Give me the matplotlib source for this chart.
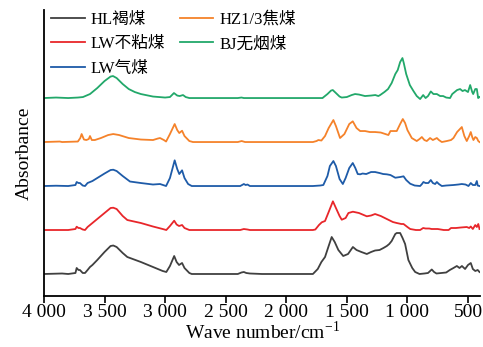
import matplotlib
matplotlib.use("Agg")
import matplotlib.pyplot as plt

plt.rcParams['font.family'] = ['Liberation Serif', 'Noto Sans CJK SC', 'DejaVu Sans']

# wavenumber (cm-1) / absorbance (arbitrary units, above own baseline)
HL_WN = [4000, 3850, 3800, 3740, 3730, 3715, 3703, 3680, 3661, 3640, 3620, 3600, 3560, 3500, 3450, 3428, 3400,
         3350, 3312, 3200, 3100, 3020, 2990, 2960, 2925, 2905, 2885, 2860, 2840, 2800, 2780, 2400, 2370, 2350,
         2330, 2300, 2200, 1780, 1740, 1710, 1680, 1650, 1625, 1600, 1570, 1530, 1490, 1450, 1420, 1380, 1335,
         1300, 1267, 1230, 1198, 1170, 1150, 1130, 1100, 1088, 1060, 1040, 1019, 992, 960, 936, 900, 860, 830,
         799, 780, 760, 720, 680, 650, 620, 592, 570, 550, 524, 500, 477, 460, 440, 420, 405]
HL_ABS = [0, 0.5, 0, 1, 6, 4, 4, 1, 1, 4, 7, 9, 14, 22, 28, 28.5, 27,
          21, 17, 12, 7, 3, 2, 8, 18, 12, 9, 11, 6, 1, 0, 0, 1.5, 2,
          1, 0.5, 0, 0, 5, 12, 17, 28, 37, 32, 24, 18, 20, 27, 24, 22, 20,
          22, 23.5, 24, 26, 28, 30, 33, 40, 41, 41, 36, 30, 14, 6, 2, 0, 0.5, 1,
          4.5, 2, 0.5, 1, 1.5, 4, 6, 8, 6, 8, 5, 9, 11, 5, 3, 4, 2]

LWB_WN = [4000, 3800, 3740, 3730, 3715, 3703, 3680, 3661, 3640, 3620, 3600, 3560, 3500, 3450, 3428, 3400, 3350,
          3312, 3200, 3100, 3020, 2990, 2960, 2925, 2905, 2885, 2860, 2840, 2800, 2380, 2350, 2320, 2300, 1780,
          1760, 1730, 1707, 1680, 1650, 1615, 1590, 1560, 1542, 1510, 1487, 1450, 1400, 1335, 1300, 1267, 1220,
          1170, 1120, 1088, 1050, 1032, 1000, 977, 930, 895, 870, 850, 820, 800, 750, 700, 660, 640, 600, 560,
          510, 490, 477, 460, 440, 427, 415, 405]
LWB_ABS = [0, 0, 1, 3.3, 2, 2, 0.5, 0, 3, 5, 7, 11, 17, 22, 22.3, 21, 14,
           10, 7, 3.5, 1, 0, 4, 9.3, 5.5, 4, 5, 2, 0, 0, 1, 0.5, 0, 0,
           0.5, 5, 7.7, 9, 18, 28.7, 22, 14, 10.3, 12, 17, 18.3, 17, 13.7, 14.5, 16, 14,
           11, 8, 7, 6, 6, 3, 1, 0, 0, 2, 1.5, 1.5, 1, 1, 0, 0, 2, 2, 2.5,
           3, 2, 3.5, 1, 5, 3, 6, 1]

LWQ_WN = [4000, 3900, 3800, 3740, 3730, 3715, 3703, 3680, 3661, 3640, 3620, 3600, 3560, 3500, 3450, 3428, 3400,
          3350, 3290, 3200, 3100, 3042, 2992, 2960, 2921, 2900, 2883, 2860, 2840, 2810, 2780, 2380, 2350, 2335,
          2320, 2300, 1780, 1720, 1694, 1660, 1640, 1611, 1590, 1560, 1533, 1510, 1480, 1451, 1430, 1410, 1390,
          1370, 1340, 1300, 1267, 1230, 1200, 1170, 1140, 1100, 1060, 1032, 1010, 977, 940, 895, 880, 868, 850,
          827, 807, 790, 771, 757, 740, 716, 680, 620, 580, 551, 520, 496, 477, 460, 440, 427, 420, 405]
LWQ_ABS = [0, 0.3, 0, 1, 4, 3, 3, 0.5, 0, 3, 4, 5, 8, 12.5, 16, 16.3, 15,
           10, 4.5, 3, 1.5, 2, 0, 8, 25.7, 17, 12, 15.7, 8, 2, 0, 0, 2, 1,
           1.5, 0, 0, 0.5, 1, 10, 20, 25, 20, 7, 2, 8, 18, 23, 18, 12, 11.7,
           12.5, 12, 14, 14, 13, 12, 11.7, 11, 8.3, 9, 9.7, 6, 2.3, 0.5, 0, 2, 4, 3,
           3, 6, 3, 2, 4, 2, 0, 0.5, 1, 1.5, 2, 1.5, 0, 3, 1, 1, 5, 0.5, 0]

HZ_WN = [4000, 3870, 3850, 3720, 3700, 3689, 3670, 3650, 3630, 3620, 3605, 3580, 3530, 3470, 3428, 3380, 3300,
         3200, 3100, 3060, 3042, 3010, 2992, 2960, 2921, 2900, 2883, 2860, 2840, 2800, 2770, 2400, 2368, 2340,
         1780, 1750, 1735, 1710, 1680, 1650, 1611, 1590, 1556, 1520, 1480, 1451, 1420, 1390, 1350, 1310, 1267,
         1220, 1157, 1140, 1120, 1088, 1060, 1038, 1019, 1000, 964, 923, 900, 881, 860, 840, 813, 790, 757,
         740, 716, 675, 640, 620, 590, 551, 530, 510, 490, 477, 465, 455, 440, 427, 415, 405]
HZ_ABS = [0, 0.5, 0, 0.5, 4, 8, 2.5, 2, 3, 6, 2, 2, 4, 7, 8, 7, 4,
          2.5, 2, 3.5, 4, 2, 0.5, 8, 18, 12, 9, 11.3, 6, 1, 0, 0, 1, 0,
          0, 1, 2, 1.5, 6, 14, 22, 16, 4, 8, 18, 20.7, 14, 11, 11, 10, 10,
          9.5, 7, 11, 11, 11, 18, 23, 19, 12, 4, 1, 3, 5, 2, 1, 4, 2, 4,
          2, 0, 1, 2, 4, 10, 15, 6, 1, 6, 10, 5, 2, 5, 4, 1, 0]

BJ_WN = [4000, 3900, 3800, 3720, 3678, 3620, 3560, 3500, 3450, 3430, 3400, 3350, 3300, 3250, 3200, 3100, 3000,
         2960, 2927, 2900, 2880, 2852, 2830, 2800, 2400, 2370, 2350, 1700, 1696, 1660, 1630, 1616, 1590, 1560,
         1542, 1500, 1460, 1432, 1400, 1350, 1300, 1265, 1240, 1225, 1190, 1160, 1130, 1110, 1100, 1080, 1060,
         1041, 1030, 1010, 980, 950, 923, 895, 870, 850, 830, 807, 785, 757, 730, 705, 680, 648, 630, 610,
         590, 565, 545, 525, 500, 482, 465, 457, 440, 427, 416, 405]
BJ_ABS = [0, 0.5, 0, 0.5, 1, 4, 10, 17, 21.5, 22, 20, 14, 9, 6, 4, 1.5, 0.5,
          1, 5, 2.5, 2, 3, 1, 0, 0, 0.5, 0, 0, 0.5, 4, 7.5, 8, 5, 1.5,
          0.5, 1, 3, 4, 3.5, 2, 2.5, 3, 2, 3, 6, 9, 15, 21, 24, 28, 36,
          40, 35, 24, 13, 7, 2, -1, 3, 0, 2, 6.6, 4, 4, 2, 2, 0.5, 0, 4, 6,
          8, 9, 7, 8, 6, 13, 6, 4, 9, 9, 0, 1]

XTICKS = [4000, 3500, 3000, 2500, 2000, 1500, 1000, 500]
XTICK_LABELS = ['4 000', '3 500', '3 000', '2 500', '2 000', '1 500', '1 000', '500']

fig = plt.figure(figsize=(4.83, 3.47), dpi=100)
ax = fig.add_axes([0.091, 0.147, 0.903, 0.824])

# (label, x, y, colour, vertical offset)
series = [
    ("HL褐煤", HL_WN, HL_ABS, '#404040', 22),
    ("LW不粘煤", LWB_WN, LWB_ABS, '#E8262A', 66),
    ("LW气煤", LWQ_WN, LWQ_ABS, '#1E5BA8', 110),
    ("HZ1/3焦煤", HZ_WN, HZ_ABS, '#F5822A', 154),
    ("BJ无烟煤", BJ_WN, BJ_ABS, '#22A86A', 198),
]
handles = []
for label, wn, ab, col, off in series:
    line, = ax.plot(wn, [a + off for a in ab], color=col, lw=1.3, label=label)
    handles.append(line)

ax.set_xlim(4000, 400)
ax.set_ylim(0, 286)
ax.set_xticks(XTICKS)
ax.set_xticklabels(XTICK_LABELS, fontsize=14)
ax.set_yticks([])
ax.tick_params(axis='x', direction='out', length=5, width=1.2, pad=0.5)
for side in ['top', 'right']:
    ax.spines[side].set_visible(False)
for side in ['left', 'bottom']:
    ax.spines[side].set_linewidth(1.3)

ax.set_xlabel(r'Wave number/cm$^{\mathregular{-1}}$', fontsize=14, labelpad=0)
ax.set_ylabel('Absorbance', fontsize=14, labelpad=8)

ax.legend(handles=handles, loc='upper left', bbox_to_anchor=(0.0, 1.02), ncol=2, frameon=False,
          fontsize=12, handlelength=2.0, handletextpad=0.35, labelspacing=0.5, columnspacing=0.9,
          borderaxespad=0.05)

fig.savefig('out.png', dpi=100)
